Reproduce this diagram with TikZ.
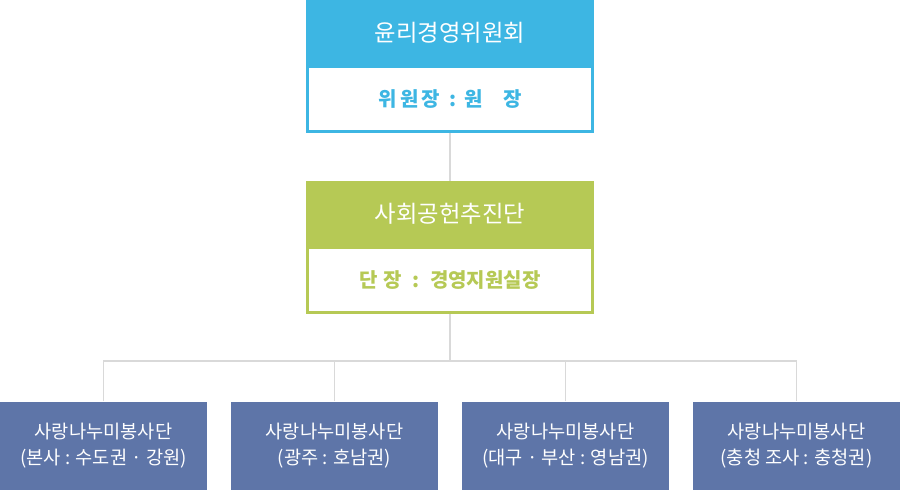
\documentclass[tikz,border=0pt]{standalone}
\usepackage{fontspec}
\setmainfont{Noto Sans CJK KR}
\definecolor{sky}{HTML}{3DB6E3}
\definecolor{olive}{HTML}{B6C955}
\definecolor{navy}{HTML}{5E75A8}
\definecolor{gr15}{HTML}{D9D9D9}
% 1px = 0.75pt
\tikzset{
  headbox/.style={minimum width=216pt, minimum height=48.75pt, inner sep=0pt,
    text=white, font=\fontsize{17.5}{20}\selectfont, anchor=north},
  chairbox/.style={draw=#1, fill=white, line width=2.25pt, minimum width=213.75pt,
    minimum height=48.75pt, inner sep=0pt, text=#1,
    font=\bfseries\fontsize{15}{18}\selectfont, anchor=north},
  teambox/.style={fill=navy, minimum width=155.25pt, minimum height=66pt, inner sep=0pt,
    text=white, align=center, font=\fontsize{14}{20}\selectfont, anchor=south},
  link/.style={draw=gr15, line width=1.2pt}
}

\begin{document}
\begin{tikzpicture}[x=0.75pt, y=0.75pt]
  \useasboundingbox (0,0) rectangle (901,490);

  % Committee
  \node[headbox, fill=sky] (ethics) at (450,490) {윤리경영위원회};
  \node[chairbox=sky] (chair) at (450,425) {위\hspace{2.5pt}원\hspace{2.5pt}장\hspace{6.5pt}:\hspace{6.5pt}원\hspace{15pt}장};

  % Promotion team
  \node[headbox, fill=olive] (social) at (450,309) {사회공헌추진단};
  \node[chairbox=olive] (leader) at (450,244) {단\hspace{4pt}장\hspace{8pt}:\hspace{8pt}경영지원실장};

  % Volunteer groups
  \node[teambox] (hq)    at (103.5,0) {사랑나누미봉사단\\(본사 : 수도권 · 강원)};
  \node[teambox] (gj)    at (334.5,0) {사랑나누미봉사단\\(광주 : 호남권)};
  \node[teambox] (dg)    at (565.5,0) {사랑나누미봉사단\\(대구 · 부산 : 영남권)};
  \node[teambox] (cc)    at (796.5,0) {사랑나누미봉사단\\(충청 조사 : 충청권)};

  % Connectors
  \coordinate (bus) at (450,129);
  \draw[link] (chair.south) -- (social.north);
  \draw[link] (leader.south) -- (bus);
  \draw[link] (hq.north) |- (bus) -| (cc.north);
  \draw[link] (gj.north) -- (gj.north |- bus);
  \draw[link] (dg.north) -- (dg.north |- bus);

\end{tikzpicture}
\end{document}
